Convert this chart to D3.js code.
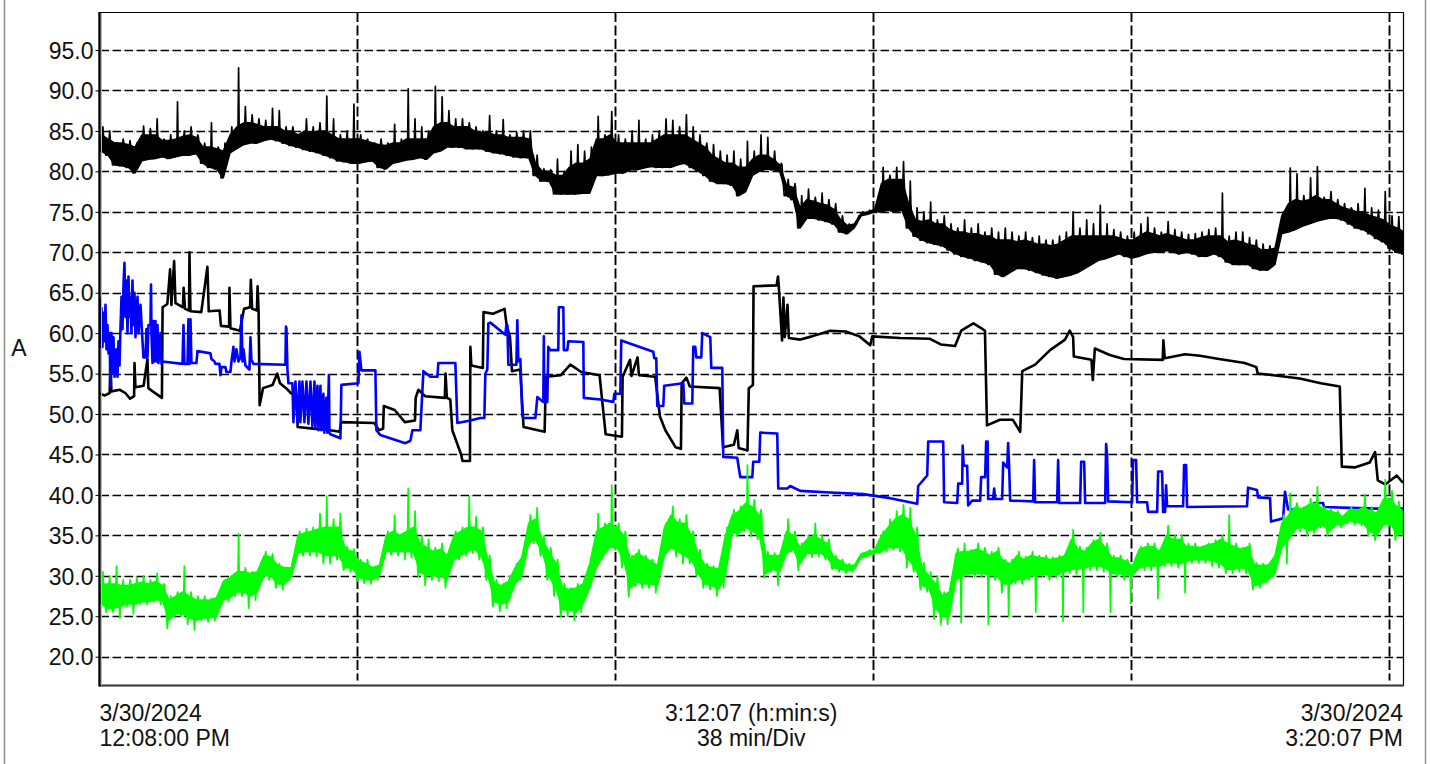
<!DOCTYPE html>
<html>
<head>
<meta charset="utf-8">
<script src="https://cdn.jsdelivr.net/npm/d3@7"></script>
<style>
  html, body { margin: 0; padding: 0; background: #fff; }
  svg { display: block; font-family: "Liberation Sans", Arial, Helvetica, sans-serif; }
</style>
</head>
<body>
<svg id="chart" width="1430" height="764"></svg>
<script>
// ---- axis content ----
const yTicks = [20, 25, 30, 35, 40, 45, 50, 55, 60, 65, 70, 75, 80, 85, 90, 95];
const xGridMinutes = [38, 76, 114, 152, 190];          // 38 min per division
const spanMinutes = 192 + 7 / 60;                       // 3:12:07 record length
const unitLabel = "A";
const startLabel = ["3/30/2024", "12:08:00 PM"];
const midLabel = ["3:12:07 (h:min:s)", "38 min/Div"];
const endLabel = ["3/30/2024", "3:20:07 PM"];

// ---- phase currents, minutes from 12:08:00 ----
// Noisy traces: per-minute minimum and peak readings.
const topLo = [
  82.5, 82, 80.8, 80.7, 80.5, 79.8, 81.3, 81.5, 81.6, 81.8,
  81.6, 81.8, 82, 82, 82.2, 81, 80.5, 80.3, 79.2, 82.3,
  82.8, 83.3, 83.5, 83.5, 83.8, 84, 83.8, 83.5, 83.2, 83,
  82.7, 82.5, 82.3, 82, 81.7, 81.3, 81.2, 81, 81, 81.2,
  81.3, 80.5, 80.3, 81, 81.2, 81.4, 81.5, 81.7, 81.5, 82.3,
  82.5, 83, 83, 83, 82.8, 82.8, 82.8, 82.5, 82.3, 82.2,
  82, 81.8, 81.7, 81.7, 79.5, 78.8, 78.8, 77.2, 77.2, 77.2,
  77.2, 77.3, 77.3, 79.5, 79.5, 79.6, 79.8, 79.8, 80.2, 80.2,
  80.4, 80.6, 80.5, 80.5, 80.5, 80.8, 81, 80.5, 80, 79.5,
  78.8, 78.5, 78.5, 78.3, 77, 77.5, 79.5, 80, 80.3, 80.2,
  80, 77, 76.5, 73, 74.2, 74.2, 74, 73.8, 73.5, 72.5,
  72.3, 73, 74.5, 74.7, 75, 75, 75.2, 75, 75.2, 73,
  72, 71.5, 71.2, 71, 70.8, 70.3, 69.8, 69.5, 69.3, 69,
  68.8, 68.5, 67.3, 67, 67.5, 68, 68, 67.8, 67.5, 67.2,
  67, 66.8, 67, 67.2, 67.5, 68, 68.5, 69, 69.2, 69.5,
  69.8, 69.5, 69.3, 69.5, 69.8, 70, 70, 70.2, 70, 69.8,
  70, 69.8, 69.5, 69.5, 69.8, 69.5, 68.8, 68.5, 68.5, 68.5,
  68, 67.8, 67.8, 68.5, 72.3, 72.5, 72.8, 73.2, 73.5, 73.8,
  74, 74.2, 74.2, 74, 73.5, 73, 72.8, 72.3, 71.7, 71.3,
  70.5, 70, 69.8
];
// typical upper edge of the dense part of the trace
const topBand = [
  84.5, 84, 83.5, 83.5, 83.3, 83, 84.5, 84.5, 84.5, 83.8,
  83.8, 84, 84.3, 84.5, 84.2, 83, 83, 82.8, 82.5, 84.5,
  85.5, 86, 86, 85.8, 85.5, 85.5, 85.5, 85, 85, 84.5,
  85, 84.8, 85, 85, 84.5, 84, 84, 84, 84, 83.8,
  83.5, 83.3, 83.2, 83.5, 83.5, 84, 84, 84, 84, 85.5,
  86, 86, 85.5, 85.5, 85.5, 85, 84.8, 84.8, 84.5, 84.5,
  84.2, 84.2, 84.2, 84, 81, 80, 80, 79.5, 79.5, 80.5,
  81, 81, 81.5, 84, 84, 84.5, 83.5, 83.5, 83.5, 83.5,
  83.5, 83.5, 84, 84.5, 84.5, 84.5, 84.5, 84, 83.5, 83,
  82, 81.5, 81, 81, 80.5, 80.5, 81.5, 82, 82, 81.5,
  80.8, 78.3, 78, 75.5, 76.5, 76.3, 76, 75.8, 75.3, 74,
  73.3, 73.5, 74.8, 75, 75.3, 78.5, 79, 79, 79, 76,
  74, 73.8, 74, 73.5, 73.5, 72.8, 72.5, 72.5, 72.3, 72.3,
  72, 72, 71.5, 71.5, 71.5, 71.3, 71.5, 71.3, 71, 71,
  70.8, 71, 71.5, 72, 72, 72, 72, 72, 72, 72,
  71.8, 71.5, 71.5, 72, 72.5, 72.3, 72, 72.3, 72, 71.8,
  71.5, 71.5, 71.8, 72, 72, 72, 71.3, 71.5, 71.3, 71,
  70.8, 70.3, 70.3, 70.5, 74.5, 76, 76.5, 76.3, 76.5, 77,
  76.5, 76.5, 76, 75.5, 75.3, 75, 75, 74.5, 74.3, 74,
  73.3, 73, 72.5
];
const topHi = [
  85.5, 85, 83.5, 84, 83.8, 83.5, 85.6, 85.3, 86.5, 84,
  84.5, 88.6, 85, 85.5, 84.5, 83.5, 86, 83, 83.5, 85.5,
  92.8, 88, 87, 86.5, 86.3, 87.8, 87.5, 85.5, 85.5, 84.5,
  86.5, 85.5, 86, 89.3, 86.5, 84.5, 85, 88.3, 84.5, 84,
  83.5, 84, 83.5, 85.8, 84, 90.2, 86.5, 85.5, 85, 90.5,
  89.2, 87.5, 86.5, 86.5, 86, 85.5, 85, 86.9, 85, 86.4,
  84.5, 84.8, 85, 85, 82, 80.3, 80.2, 81.5, 80, 82.5,
  83.3, 82.5, 83, 86.8, 84.5, 87.4, 84.5, 84, 85, 86.3,
  84, 84.5, 85, 86.5, 86.3, 85.5, 87, 85.5, 84.5, 83.5,
  83.3, 82.5, 82, 82.5, 81.5, 83.7, 82.5, 84.5, 84.2, 82.5,
  81, 79, 78.5, 77, 77.8, 76.8, 77.3, 76.5, 76, 74.5,
  73.5, 73.8, 75, 75.2, 75.5, 80.5, 79.5, 80.5, 81.2, 78.8,
  75.5, 75, 76.2, 74, 74.5, 73.5, 73, 74, 73, 73.5,
  72.5, 73, 72.5, 73, 72.5, 72, 72.5, 71.8, 72, 71.5,
  71.5, 72, 72.5, 75, 73, 74, 73.5, 75.8, 73.5, 72.8,
  72.5, 72, 72.5, 73.5, 74.3, 73, 72.5, 73.8, 72.8, 72.5,
  72.2, 72.3, 72.5, 72.8, 73, 77.3, 72, 72.5, 72.5, 71.8,
  71.5, 71, 70.8, 71, 75, 80.4, 79.7, 77, 79.2, 80.6,
  76.8, 77.5, 76.5, 76, 75.5, 76, 77.9, 75.5, 75.2, 77.5,
  74.5, 74.4, 73
];
const greenLo = [
  27, 25.5, 25.5, 24.8, 26.2, 25.3, 26.5, 26.5, 26.8, 26.5,
  23.5, 25, 25, 24, 23.3, 24.5, 24.3, 24.5, 26.5, 26.8,
  27.5, 27.5, 26, 27, 29.5, 29.5, 28.5, 28.3, 29.5, 32.3,
  32.5, 32.5, 32.4, 31.5, 31.5, 32, 30.7, 30.5, 29.3, 29.1,
  29, 29.5, 32.5, 32.6, 32.5, 32, 32.2, 29.9, 28.8, 29.5,
  29.3, 28.5, 31.5, 32, 32.5, 32.8, 32, 29.5, 26.2, 25.6,
  26, 28.5, 29.5, 33, 34, 32.5, 29.5, 27.5, 25, 25,
  24.5, 25.5, 28, 30.3, 32, 33.4, 33.2, 31, 27.4, 28.7,
  28.5, 28.5, 27.9, 32, 33.2, 32.4, 31.5, 31.5, 29.9, 28.5,
  28.3, 27.5, 28.5, 35, 34.9, 35.5, 34.9, 34.5, 29.8, 30.5,
  28.8, 32.5, 33, 30.7, 32.3, 32.3, 32.4, 32, 30.8, 30.5,
  30.3, 30.5, 32, 32.3, 32.6, 32.8, 33, 33.2, 33, 31,
  30.5, 28.3, 28, 24.6, 24, 24, 29.1, 24.2, 30, 29.9,
  29.9, 24, 29.5, 27.9, 25, 29.1, 29, 29.5, 25.5, 29.9,
  29.5, 29.8, 24.4, 30.3, 30.2, 25.5, 30.7, 30.7, 30.5, 25.5,
  29.9, 29.5, 26.6, 30.7, 30.7, 30.7, 27.2, 31.2, 31.2, 31,
  27.9, 31.6, 31.6, 31.6, 31.2, 31, 30.3, 30.3, 30.5, 30.3,
  28.3, 28.5, 29.2, 30, 33, 31.5, 35.3, 35.5, 35, 35.3,
  36, 35, 36, 36, 36.5, 36.3, 36.2, 35, 34.4, 36,
  36.1, 34.4, 35
];
const greenHi = [
  30.5, 30, 31.2, 29.5, 29.5, 29.8, 30, 29.5, 30.3, 29,
  27.5, 28, 31.2, 28, 27.5, 27.5, 27.2, 27.5, 29.5, 30,
  35.2, 31, 30.5, 31, 33, 32.7, 31.5, 31, 31.3, 35.5,
  35.8, 36, 37.7, 39.8, 37, 37.7, 33.6, 33.3, 32, 32,
  31, 31.5, 35.5, 37.5, 35, 40.8, 38, 35, 34.5, 33.5,
  34, 33, 35.5, 36, 39.8, 37.3, 36, 32.5, 29.5, 29,
  30, 31.5, 32.8, 37.5, 38.4, 34.9, 33.5, 32, 29, 28.5,
  29, 29.5, 32, 37.7, 36.5, 41.2, 36.5, 35.5, 32.5, 33.2,
  32.5, 32, 31.5, 36.5, 38.6, 37, 37.5, 35.5, 33.2, 31.5,
  31.2, 31, 36, 38.2, 38.6, 43.7, 39.4, 38.2, 33, 32.8,
  33, 37, 35.5, 34, 35, 36.5, 35, 34.5, 32.5, 32,
  31.5, 31.5, 32.8, 33.2, 33.3, 35.5, 37, 38, 38.8, 38.4,
  36, 31.6, 30.5, 30, 28, 28.5, 33.4, 34, 33.2, 34,
  33.5, 33, 33.5, 32, 32, 33, 32.4, 33, 32.5, 32.5,
  32.3, 32.5, 33, 35.7, 33.6, 33.5, 34.4, 35.3, 34, 32.5,
  32.5, 32, 31.5, 33.6, 34, 34, 33, 36.2, 35, 35,
  34, 34, 33.6, 34, 34.4, 35, 37.5, 34, 33.5, 34,
  31.6, 31.5, 31.5, 33, 37.5, 40.2, 39, 38.5, 39.5, 41,
  38.5, 38.2, 38, 37.5, 38.5, 38.2, 40, 38.5, 38, 41.9,
  40.5, 39.2, 38.5
];
// dense core of the green trace: lower and upper edge
const greenBandLo = [
  26.5, 26, 26, 26.3, 26.5, 26.5, 26.8, 26.8, 27, 27,
  24.5, 25.3, 25.3, 24.8, 24.5, 24.8, 24.8, 25, 27, 27.3,
  28, 28, 27.5, 28, 30, 30, 29, 29, 29.8, 32.8,
  33, 33, 33, 32.5, 32.5, 32.5, 31, 31, 29.8, 29.5,
  29.5, 30, 33, 33, 33, 33, 33, 30.5, 30, 30,
  30, 29.5, 32, 32.5, 33, 33.3, 32.5, 30, 26.8, 26.5,
  26.8, 29, 30, 34, 34.5, 33, 30, 28.5, 25.8, 25.8,
  25.5, 26.5, 28.5, 31, 32.5, 33.5, 33.5, 32, 28.5, 29.2,
  29, 29, 28.8, 32.5, 33.5, 33, 32.5, 32, 30.3, 29,
  28.8, 28.3, 30, 35.3, 35.3, 36, 35.5, 35, 30.3, 30.8,
  30.5, 32.8, 33.3, 31.5, 32.8, 32.8, 32.8, 32.3, 31, 30.8,
  30.6, 30.8, 32.2, 32.5, 32.8, 33, 33.5, 33.5, 33.5, 32,
  31, 28.8, 28.5, 26, 25, 25, 29.5, 30, 30.3, 30.3,
  30.3, 30, 30, 29, 29, 29.5, 29.5, 30, 30, 30.2,
  30, 30.2, 30.5, 30.8, 30.8, 31, 31.2, 31.2, 31, 30.3,
  30.3, 30, 30, 31, 31.2, 31.2, 31.2, 31.6, 31.6, 31.5,
  31.8, 32, 32, 32, 31.8, 31.5, 30.8, 30.8, 31, 30.8,
  28.8, 29, 29.5, 30.3, 33.5, 34.5, 35.8, 36, 35.6, 35.8,
  36.3, 35.5, 36.3, 36.3, 36.8, 36.6, 36.5, 35.5, 35, 36.3,
  36.5, 35, 35.5
];
const greenBandHi = [
  29, 29, 29, 28.8, 28.8, 29, 29.2, 29, 29.3, 28.8,
  27, 27.5, 28, 27.5, 27, 27, 27, 27.3, 29.3, 29.8,
  30.5, 30.5, 30.3, 30.5, 32.5, 32.3, 31.3, 31, 31, 35,
  35.3, 35.5, 35.8, 36, 36, 36, 33.3, 33, 31.8, 31.5,
  31, 31.3, 35, 35.5, 35, 35.5, 36, 34, 33.5, 33,
  33.3, 32.5, 35, 35.5, 36, 36, 35.5, 32, 29, 28.8,
  29.3, 31, 32.3, 36.5, 37, 34.5, 33, 31.5, 28.5, 28.3,
  28.5, 29, 31.5, 35.5, 36, 36.5, 36, 35, 32, 32.8,
  32.3, 31.8, 31.3, 36, 37.5, 36.5, 36.5, 35, 32.8, 31.3,
  31, 30.8, 35, 37.5, 38, 39, 38.5, 37.5, 32.5, 32.5,
  32.5, 35.5, 35, 33.5, 34.5, 35, 34.5, 34, 32.3, 31.8,
  31.3, 31.3, 32.7, 33, 33.2, 35, 36, 37, 37.5, 37,
  35, 31, 30, 29, 27.5, 28, 32.8, 33, 33, 33.3,
  33, 32.5, 33, 31.8, 31.5, 32.5, 32, 32.5, 32.3, 32.2,
  32, 32.2, 32.5, 34.5, 33.3, 33, 34, 34.5, 33.5, 32.2,
  32.2, 31.8, 31.2, 33.3, 33.6, 33.6, 33, 35, 34.5, 34.5,
  33.6, 33.6, 33.5, 33.8, 34, 34.5, 34, 33.6, 33.3, 33.6,
  31.3, 31.3, 31.3, 32.5, 36.5, 37.5, 38.5, 38.3, 38.8, 39,
  38.3, 38, 37.8, 37.3, 38.2, 38, 38.5, 38, 37.8, 39.5,
  39.5, 38.5, 38
];

// Step-like traces: [minute, amps]
const midTrace = [
  [0, 52.5], [0.8, 52.3], [1.5, 52.6], [1.62, 57.2], [1.75, 52.8], [3, 53], [3.8, 52.6],
  [4.5, 51.9], [5.1, 52.2], [5.16, 56.3], [5.3, 53.3], [6.5, 53.5], [7.07, 56.8], [7.2, 53.2],
  [8, 52.7], [9.2, 52], [9.3, 63.2], [10, 63.6], [10.4, 67.9], [10.6, 63.5], [11, 68.9],
  [11.2, 63.7], [12.3, 63.2], [12.4, 65.6], [12.6, 63], [13.2, 62.8], [13.26, 70], [13.4, 62.7],
  [15, 62.6], [15.9, 68.2], [16.1, 62.7], [17.7, 62.8], [17.9, 60.9], [19.1, 60.8], [19.15, 65.6],
  [19.3, 60.6], [20.7, 60.3], [21.3, 63], [22.2, 63.2], [22.3, 66.6], [22.5, 63], [23.2, 62.8],
  [23.3, 65.8], [23.45, 62.6], [23.6, 51.1], [24.1, 53.2], [25.5, 53.6], [26.2, 55], [26.6, 53.8],
  [27.5, 53.2], [28.2, 52.6], [29.1, 52.2], [29.2, 48.4], [31.5, 48.2], [34, 48], [35.4, 47.8],
  [35.6, 49], [40.5, 48.9], [41.2, 48], [41.8, 48.2], [41.9, 51], [43.5, 50.5], [45, 49],
  [46.5, 49.2], [46.6, 52], [47, 53], [48, 52.2], [50.9, 52], [51, 55], [51.2, 52], [51.7, 51.8],
  [52, 48], [53.3, 45], [53.5, 44.2], [54.6, 44.2], [54.66, 58.3], [54.8, 56], [56.5, 55.7],
  [56.6, 62.6], [58, 62.4], [59.7, 63], [60, 61], [60.5, 59.5], [60.8, 55.3], [62, 55.5],
  [62.5, 48.4], [65.6, 47.8], [65.8, 54.6], [68, 54.8], [69.4, 56.1], [71, 55.2], [73.7, 54.8],
  [74.6, 47.5], [77, 47.2], [77.1, 54.6], [78.2, 56.7], [78.4, 54.7], [79.3, 57], [79.5, 54.8],
  [81.9, 54.6], [82.6, 49.7], [83.4, 48], [84.9, 45.9], [85.7, 45.7], [85.8, 53.8], [86.5, 54.5],
  [87, 53.4], [91.4, 53.2], [91.9, 45.9], [93.5, 46.2], [94, 48], [94.2, 45.8], [95.5, 45.5],
  [95.7, 53.2], [96.3, 53.6], [96.4, 65.8], [99.8, 65.9], [100, 67], [100.1, 66], [100.6, 59.1],
  [100.8, 64.4], [101, 59.5], [101.4, 63.5], [101.6, 59.4], [103.3, 59.2], [105, 59.6],
  [107.7, 60.3], [110, 60.2], [112, 59.6], [113.6, 58.5], [113.9, 59.6], [118, 59.4],
  [122.4, 59.3], [124, 58.6], [126.1, 58.4], [127, 60.3], [128.8, 61.2], [130, 60.6],
  [130.5, 60.3], [130.8, 48.6], [132.7, 49.3], [134.6, 49.3], [135.7, 47.8], [136, 55.3],
  [137.9, 56.1], [140.1, 57.9], [142.3, 59.2], [143, 60.3], [143.5, 59.5], [143.6, 57.1],
  [146.2, 56.7], [146.4, 54.2], [146.7, 58.1], [148.9, 57.3], [151, 56.8], [156.7, 56.7],
  [156.8, 59.1], [157, 56.9], [160, 57.4], [162.2, 57.2], [165, 56.8], [168.8, 56.3],
  [170.5, 55.8], [170.7, 55], [173, 54.8], [176.9, 54.4], [180, 53.8], [182.8, 53.4],
  [183.1, 43.5], [185, 43.4], [187.2, 44], [188, 45.3], [188.4, 41.8], [189.5, 41.3],
  [191.2, 42.4], [192.1, 41.5]
];
const blueTrace = [
  [0, 64.4], [0.15, 58.3], [0.29, 63.1], [0.44, 58.3], [0.59, 62.5], [0.74, 59], [0.88, 63.5],
  [1.03, 58], [1.18, 61], [1.33, 57.5], [1.47, 60], [1.62, 53.4], [1.77, 60], [1.92, 55],
  [2.06, 59.5], [2.21, 54.6], [2.5, 58], [2.65, 54.6], [2.8, 59], [2.95, 56], [3.09, 60.5],
  [3.24, 64.5], [3.39, 60.5], [3.54, 66], [3.68, 68.7], [3.83, 62], [3.98, 66.5], [4.13, 60],
  [4.27, 67], [4.42, 62], [4.57, 64.5], [4.71, 60], [4.86, 66.5], [5.01, 61], [5.16, 65],
  [5.3, 59.5], [5.6, 64.5], [5.75, 60], [6.04, 63.5], [6.34, 59], [6.48, 57], [6.78, 57],
  [6.92, 60.5], [7.07, 57], [7.22, 61], [7.51, 61], [7.59, 66], [7.66, 60], [7.81, 56.3],
  [7.96, 61.5], [8.1, 56.5], [8.25, 61.5], [8.4, 56.5], [8.55, 61], [8.69, 56.3], [8.99, 60],
  [9.14, 56.2], [9.28, 56.5], [12.23, 56.2], [12.38, 61], [12.52, 56.2], [12.97, 56.2],
  [13.11, 61.7], [13.26, 56.2], [13.41, 61.7], [13.55, 56.3], [14.29, 56.3], [14.44, 57.8],
  [16.35, 57.5], [16.5, 56.8], [16.94, 56.5], [17.09, 56.2], [17.68, 56.2], [17.83, 54.8],
  [17.97, 55.8], [18.56, 55.8], [18.71, 55.2], [19.3, 55.2], [19.45, 56.5], [19.74, 58.3],
  [19.89, 56.5], [20.18, 58], [20.48, 56.5], [20.77, 57], [20.92, 62.2], [21.07, 56.5],
  [21.22, 58], [21.51, 56], [22.1, 55.5], [22.25, 59.5], [22.39, 56.7], [22.69, 56.2],
  [27.4, 56.1], [27.48, 60.8], [27.55, 60.6], [27.7, 55.5], [27.85, 53.8], [28.43, 53.8],
  [28.58, 49], [28.88, 54], [29.17, 49], [29.47, 54], [29.61, 49], [29.91, 54], [30.2, 49],
  [30.5, 54], [30.79, 48.8], [31.09, 54], [31.38, 48.5], [31.68, 54], [31.82, 48.3],
  [32.12, 53.5], [32.27, 48], [32.56, 53.5], [32.71, 48], [33, 52.5], [33.15, 47.7],
  [33.44, 52], [33.59, 47.7], [33.81, 54.8], [33.89, 47.7], [34.03, 47.5], [35.51, 47],
  [35.65, 53.6], [38.16, 53.8], [38.31, 57.7], [38.6, 55.4], [40.66, 55.4], [40.81, 48],
  [41.4, 47.4], [45.08, 46.4], [45.82, 46.7], [46.12, 48], [47.29, 48], [47.74, 55.3],
  [48.77, 54.6], [49.8, 54.6], [49.94, 56.3], [52.45, 56.3], [52.74, 48.9], [54.66, 49.2],
  [56.13, 49.5], [56.72, 49.5], [56.87, 55], [57.16, 55.5], [57.31, 61.2], [57.61, 61.3],
  [59.82, 59.8], [59.96, 61], [60.11, 61], [60.26, 56.1], [61.44, 56.1], [61.58, 61.6],
  [61.73, 56.5], [62.03, 56.8], [62.32, 49.8], [62.47, 49.5], [64.24, 49.5], [64.53, 52.1],
  [65.41, 51.5], [65.49, 59.6], [65.56, 51.5], [66.0, 51.5], [66.15, 58.3], [66.45, 57.9],
  [67.62, 57.9], [67.7, 63.2], [68.36, 63.2], [68.44, 57.9], [68.95, 57.9], [69.1, 59],
  [71.31, 58.9], [71.38, 52], [73.81, 51.8], [75.73, 51.5], [75.87, 52.5], [76.76, 52.5],
  [76.9, 59.1], [81.62, 57.7], [81.77, 56.9], [82.06, 56.9], [82.21, 51], [83.09, 51],
  [83.24, 53.5], [86.04, 53.8], [86.19, 51.3], [87.37, 51.3], [87.51, 58.3], [87.81, 58.3],
  [87.96, 57], [88.69, 57], [88.84, 60], [90.02, 59.5], [90.17, 55.7], [91.79, 55.7],
  [91.93, 44.7], [93.99, 44.6], [94.44, 42.2], [96.21, 42.2], [96.35, 44.1], [97.24, 44.1],
  [97.39, 47.7], [99.89, 47.6], [100.04, 40.8], [101.36, 40.8], [101.81, 41.1], [103.28, 40.5],
  [107.7, 40.3], [112.56, 40.1], [116.54, 39.6], [120.52, 38.9], [120.66, 41.1], [121.99, 42.4],
  [122.14, 46.6], [124.35, 46.6], [124.49, 39.1], [126.41, 39], [126.56, 41.4], [127.15, 41.4],
  [127.22, 46.1], [127.37, 43.6], [127.88, 43.6], [128.03, 38.7], [128.62, 39.3], [129.8, 39.3],
  [129.94, 42.2], [130.53, 42.2], [130.68, 46.6], [130.9, 46.6], [130.97, 39.5], [131.71, 39.5],
  [131.86, 40.8], [132.01, 39.5], [133.04, 39.5], [133.19, 44], [133.78, 43.4], [133.92, 46.4],
  [134.07, 43.4], [134.22, 39.3], [137.61, 39.2], [137.75, 44.3], [137.9, 39.1], [141.14, 39.1],
  [141.29, 44.3], [141.44, 39], [144.53, 39], [144.68, 44.1], [145.12, 44.1], [145.27, 39],
  [148.22, 39], [148.36, 46.3], [148.51, 44.8], [148.66, 39.2], [152.19, 39.1], [152.34, 44.3],
  [152.78, 44.3], [152.93, 39.1], [154.4, 39.1], [154.55, 37.9], [155.88, 37.9], [156.03, 42.9],
  [156.61, 42.9], [156.76, 37.9], [157.05, 37.9], [157.2, 41.2], [157.35, 38.6], [159.71, 38.6],
  [159.85, 43.7], [160.15, 43.7], [160.29, 38.5], [169.13, 38.6], [169.28, 40.9], [170.61, 40.6],
  [170.75, 39.7], [172.52, 39.6], [172.67, 36.7], [174.44, 37.1], [174.73, 40.4], [175.18, 38.2],
  [178.86, 38.2], [179.01, 39], [180.33, 39], [180.48, 38.5], [184.31, 38.4], [188.29, 38.3],
  [192.12, 38.3]
];

// ---- layout ----
const plot = { left: 99.5, right: 1403, top: 12, bottom: 685.5 };
const x = d3.scaleLinear().domain([0, spanMinutes]).range([plot.left, plot.right]);
const y = d3.scaleLinear().domain([16.44, 99.7]).range([plot.bottom, plot.top]);
const fontSize = 23;

const svg = d3.select("#chart");

// outer window edges
svg.append("g").selectAll("line").data([4.5, 1425.5]).join("line")
  .attr("x1", d => d).attr("x2", d => d).attr("y1", 0).attr("y2", 764)
  .attr("stroke", "#8f8f8f").attr("stroke-width", 1.5);

svg.append("defs").append("clipPath").attr("id", "plotClip")
  .append("rect")
  .attr("x", plot.left).attr("y", plot.top)
  .attr("width", plot.right - plot.left).attr("height", plot.bottom - plot.top);

// ---- grid ----
const grid = svg.append("g");
const hy = v => Math.round(y(v)) + 0.5;
grid.selectAll("line.h").data(yTicks).join("line").attr("class", "h")
  .attr("x1", plot.left + 1).attr("x2", plot.right)
  .attr("y1", hy).attr("y2", hy)
  .attr("stroke", "#000").attr("stroke-width", 1.6)
  .attr("stroke-dasharray", "8.5,3.5");
grid.selectAll("line.hd").data(yTicks).join("line").attr("class", "hd")
  .attr("x1", plot.left + 1).attr("x2", plot.right)
  .attr("y1", hy).attr("y2", hy)
  .attr("stroke", "#b8b8b8").attr("stroke-width", 1)
  .attr("stroke-dasharray", "1,11").attr("stroke-dashoffset", -10);
const vx = m => Math.round(x(m)) + 0.5;
grid.selectAll("line.v").data(xGridMinutes).join("line").attr("class", "v")
  .attr("x1", vx).attr("x2", vx)
  .attr("y1", plot.top).attr("y2", plot.bottom - 5)
  .attr("stroke", "#000").attr("stroke-width", 1.9)
  .attr("stroke-dasharray", "10,3.5");

// ---- y axis labels ----
const yAxis = d3.axisLeft(y).tickValues(yTicks).tickSize(4).tickPadding(2)
  .tickFormat(d3.format(".1f"));
const ya = svg.append("g").attr("transform", `translate(${plot.left},0)`).call(yAxis);
ya.select(".domain").remove();
ya.selectAll(".tick line").attr("stroke", "#000");
ya.selectAll(".tick text")
  .attr("font-family", '"Liberation Sans", Arial, sans-serif')
  .attr("font-size", fontSize).attr("fill", "#111").attr("dy", "0.36em");

svg.append("text").attr("x", 19).attr("y", 356)
  .attr("text-anchor", "middle").attr("font-size", fontSize).attr("fill", "#111")
  .text(unitLabel);

// ---- traces ----
const line = d3.line().x(d => x(d[0])).y(d => y(d[1]));
const band = d3.area().x(d => x(d[0] + 0.25)).y0(d => y(d[1])).y1(d => y(d[2]));
const core = (lo, hi) => lo.map((v, i) => [i, v, hi[i]]);
// each minute: a narrow dip from the lower edge and a narrow spike from the upper edge
const spikes = (lo, bandLo, bandHi, hi) => d3.merge(lo.map((v, i) => [
  [i - 0.08, bandLo[i]], [i, v], [i + 0.08, bandLo[i]],
  [i + 0.42, bandHi[i]], [i + 0.5, hi[i]], [i + 0.58, bandHi[i]]
]));

const traces = svg.append("g").attr("clip-path", "url(#plotClip)")
  .attr("stroke-linejoin", "round");
traces.append("path").datum(midTrace).attr("d", line)
  .attr("fill", "none").attr("stroke", "#000").attr("stroke-width", 2.6);
traces.append("path").datum(blueTrace).attr("d", line)
  .attr("fill", "none").attr("stroke", "#0000ff").attr("stroke-width", 2.6);

traces.append("path").datum(core(topLo, topBand)).attr("d", band)
  .attr("fill", "#000").attr("stroke", "#000").attr("stroke-width", 1.5);
traces.append("path").datum(spikes(topLo, topLo, topBand, topHi)).attr("d", line)
  .attr("fill", "none").attr("stroke", "#000").attr("stroke-width", 1.7);

traces.append("path").datum(core(greenBandLo, greenBandHi)).attr("d", band)
  .attr("fill", "#00ff00").attr("stroke", "#00ff00").attr("stroke-width", 1.5);
traces.append("path").datum(spikes(greenLo, greenBandLo, greenBandHi, greenHi)).attr("d", line)
  .attr("fill", "none").attr("stroke", "#00ff00").attr("stroke-width", 1.7);

// ---- plot frame ----
const frame = svg.append("g");
frame.append("line").attr("x1", plot.left).attr("x2", plot.right + 0.5)
  .attr("y1", plot.top + 0.5).attr("y2", plot.top + 0.5)
  .attr("stroke", "#000").attr("stroke-width", 1.2);
frame.append("line").attr("x1", plot.right + 0.5).attr("x2", plot.right + 0.5)
  .attr("y1", plot.top).attr("y2", plot.bottom)
  .attr("stroke", "#000").attr("stroke-width", 1.2);
frame.append("line").attr("x1", plot.left).attr("x2", plot.right + 1)
  .attr("y1", plot.bottom).attr("y2", plot.bottom)
  .attr("stroke", "#333").attr("stroke-width", 2.2);
frame.append("line").attr("x1", plot.left).attr("x2", plot.left)
  .attr("y1", plot.top).attr("y2", plot.bottom + 1)
  .attr("stroke", "#000").attr("stroke-width", 2.4);
frame.append("line").attr("x1", plot.left + 2).attr("x2", plot.left + 2)
  .attr("y1", plot.top + 1).attr("y2", plot.bottom)
  .attr("stroke", "#bdbdbd").attr("stroke-width", 1);

// ---- time axis captions ----
const captions = svg.append("g").attr("font-size", fontSize).attr("fill", "#111");
const caption = (lines, xPos, anchor) => {
  captions.selectAll(null).data(lines).join("text")
    .attr("x", xPos).attr("y", (d, i) => 721 + i * 25)
    .attr("text-anchor", anchor).text(d => d);
};
caption(startLabel, plot.left, "start");
caption(midLabel, (plot.left + plot.right) / 2, "middle");
caption(endLabel, plot.right, "end");
</script>
</body>
</html>
